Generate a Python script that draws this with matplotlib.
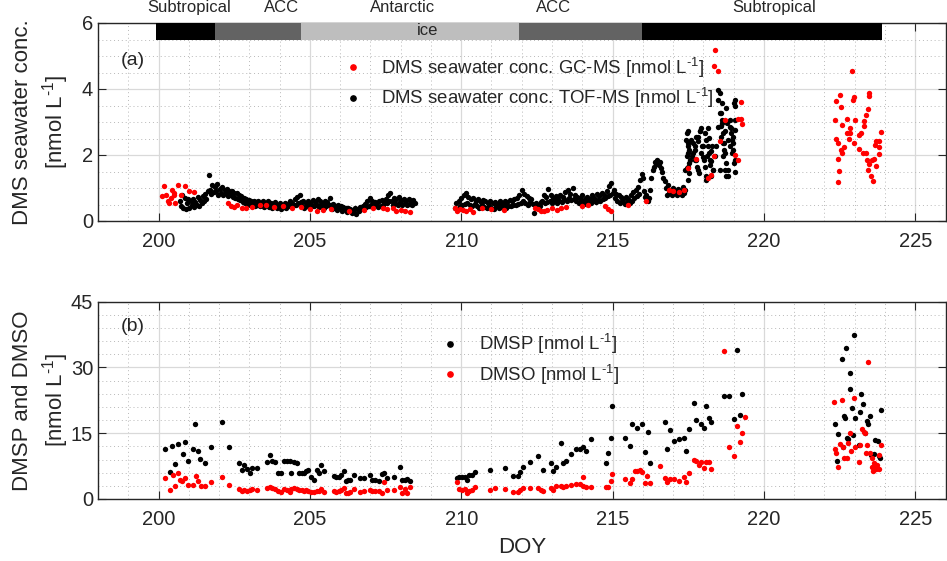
import numpy as np
import matplotlib.pyplot as plt
from matplotlib.lines import Line2D

plt.rcParams['font.family'] = ['Liberation Sans', 'DejaVu Sans']
plt.rcParams['mathtext.fontset'] = 'custom'
plt.rcParams['mathtext.rm'] = 'Liberation Sans'
plt.rcParams['mathtext.it'] = 'Liberation Sans:italic'

TXT = '#262626'

# ---- panel (a): DMS seawater, TOF-MS (continuous record, 0.04 d sampling)
tof_dt = 0.04
tof_a_start = 200.70
tof_a = [
    0.62, 0.45, 0.78, 0.40, 0.70, 0.36, 0.55, 0.66, 0.38, 0.60, 0.48, 0.68, 0.42, 0.58, 0.50, 0.72, 0.46, 0.64, 0.55, 0.75, 0.60, 0.82, 0.68, 0.90, 1.38,
    0.95, 0.82, 1.10, 0.88, 1.02, 0.92, 1.12, 0.80, 0.98, 0.86, 1.04, 0.78, 0.95, 0.84, 0.98, 0.75, 0.92, 0.80, 0.90, 0.72, 0.86, 0.70, 0.84, 0.66, 0.80,
    0.64, 0.75, 0.58, 0.70, 0.55, 0.66, 0.52, 0.64, 0.50, 0.60, 0.48, 0.62, 0.45, 0.58, 0.50, 0.60, 0.44, 0.56, 0.48, 0.62, 0.42, 0.55, 0.47, 0.60, 0.43,
    0.55, 0.40, 0.52, 0.45, 0.58, 0.38, 0.50, 0.44, 0.55, 0.36, 0.48, 0.42, 0.55, 0.40, 0.52, 0.46, 0.60, 0.44, 0.56, 0.50, 0.66, 0.48, 0.72, 0.55, 0.80,
    0.58, 0.45, 0.62, 0.40, 0.55, 0.48, 0.60, 0.42, 0.56, 0.46, 0.64, 0.44, 0.58, 0.50, 0.66, 0.42, 0.60, 0.48, 0.54, 0.40, 0.62, 0.45, 0.58, 0.50, 0.70,
    0.48, 0.36, 0.52, 0.40, 0.46, 0.33, 0.50, 0.38, 0.44, 0.30, 0.42, 0.35, 0.40, 0.28, 0.38, 0.32, 0.36, 0.24, 0.34, 0.28, 0.40, 0.22, 0.36, 0.30, 0.42,
    0.35, 0.45, 0.38, 0.52, 0.42, 0.60, 0.45, 0.70, 0.50, 0.62, 0.44, 0.58, 0.48, 0.55, 0.42, 0.60, 0.46, 0.64, 0.50, 0.58, 0.68, 0.55, 0.78, 0.60, 0.85,
    0.62, 0.50, 0.70, 0.55, 0.66, 0.48, 0.72, 0.58, 0.64, 0.50, 0.68, 0.54, 0.62, 0.47, 0.66, 0.52, 0.60, 0.48, 0.64, 0.55,
]
tof_b_start = 209.80
tof_b = [
    0.40, 0.55, 0.35, 0.62, 0.45, 0.70, 0.48, 0.80, 0.52, 0.85, 0.56, 0.72, 0.50, 0.66, 0.46, 0.70, 0.52, 0.62, 0.44, 0.66, 0.40, 0.58, 0.48, 0.64, 0.42,
    0.60, 0.38, 0.56, 0.45, 0.62, 0.40, 0.55, 0.36, 0.58, 0.44, 0.52, 0.38, 0.60, 0.42, 0.55, 0.48, 0.62, 0.40, 0.58, 0.46, 0.64, 0.44, 0.60, 0.50, 0.66,
    0.48, 0.70, 0.52, 0.78, 0.56, 0.95, 0.60, 0.82, 0.54, 0.76, 0.50, 0.70, 0.58, 0.66, 0.52, 0.24, 0.48, 0.55, 0.42, 0.50, 0.46, 0.58, 0.62, 0.80, 0.55,
    0.72, 0.58, 0.97, 0.62, 0.78, 0.54, 0.70, 0.60, 0.76, 0.55, 0.68, 0.62, 0.80, 0.58, 0.74, 0.66, 0.88, 0.60, 0.95, 0.70, 0.82, 0.64, 1.00, 0.68, 0.78,
    0.62, 0.74, 0.55, 0.70, 0.60, 0.80, 0.58, 0.68, 0.52, 0.72, 0.60, 0.66, 0.55, 0.78, 0.62, 0.70, 0.58, 0.82, 0.64, 0.76, 0.60, 0.85, 0.66, 0.78, 0.70,
    0.90, 0.75, 1.05, 0.80, 1.15, 0.85, 0.95, 0.70, 0.82, 0.62, 0.78, 0.56, 0.72, 0.60, 0.68, 0.52, 0.74, 0.58, 0.66, 0.55, 0.80, 0.62, 0.88, 0.70, 0.95,
    0.75, 1.02, 0.82, 1.25, 1.43, 1.30, 0.90, 0.72, 0.80, 0.60, 0.70, 0.95, 1.30, 1.55, 1.65, 1.80, 1.72, 1.85, 1.70, 1.78, 1.62, 1.50, 1.30, 1.20, 1.00,
    0.80, 1.10, 0.85, 0.95, 0.80, 1.00, 0.85, 0.92, 0.78, 0.98, 0.84, 0.90, 0.80, 1.02, 0.86, 0.95,
]
# scattered TOF-MS values, DOY 217.4-219.1
tof_c_doy = [217.47, 217.49, 217.52, 217.47, 217.53, 217.47, 217.60, 217.66, 217.71, 217.73,
             217.77, 217.82, 217.80, 217.84, 217.88, 217.91, 217.93, 217.99, 218.02, 218.04,
             218.10, 218.13, 218.15, 218.17, 218.21, 218.24, 218.26, 218.32, 218.48, 218.50,
             218.54, 218.57, 218.59, 218.61, 218.65, 218.68, 218.70, 218.72, 218.76, 218.79,
             218.81, 218.87, 218.90, 218.92, 218.94, 218.98, 219.01, 219.03, 219.05, 219.06,
             218.98, 218.87,
             217.50, 217.44, 217.48, 217.50, 217.55, 217.50, 217.52, 217.50, 217.66, 217.72,
             217.77, 217.83, 217.88, 217.94, 217.99, 218.05, 218.10, 218.16, 218.18, 218.21,
             218.27, 218.32, 218.25, 218.54, 218.60, 218.58, 218.62, 218.65, 218.68, 218.73,
             218.76, 218.80, 218.82, 218.87, 218.93, 218.98, 219.04, 219.01, 219.06, 219.04,
             218.49, 218.43, 218.76, 218.65, 218.54, 217.83, 217.61, 218.10, 218.38, 217.39]
tof_c = [2.67, 2.36, 2.16, 1.96, 1.76, 1.60, 2.46, 2.06, 1.86, 2.26,
         2.56, 2.41, 1.65, 1.45, 2.72, 2.82, 2.06, 2.26, 1.86, 2.67,
         1.35, 1.96, 2.26, 2.51, 1.71, 2.11, 1.81, 1.55, 3.98, 3.68,
         3.27, 2.87, 2.56, 3.07, 2.36, 2.16, 2.72, 1.55, 1.35, 2.97,
         2.46, 2.26, 2.67, 2.82, 2.06, 2.36, 1.76, 3.68, 3.47, 1.50,
         2.56, 3.07,
         2.72, 2.46, 2.26, 2.06, 1.86, 1.65, 1.45, 1.25, 2.36, 2.16,
         1.86, 2.56, 2.72, 2.26, 1.95, 1.65, 2.46, 2.81, 2.06, 1.86,
         2.26, 1.55, 1.35, 3.88, 3.58, 3.27, 2.97, 2.67, 2.36, 2.06,
         1.75, 1.55, 1.35, 2.86, 2.46, 2.16, 1.86, 3.58, 3.07, 2.77,
         2.86, 2.26, 3.42, 1.96, 1.55, 1.55, 1.96, 1.25, 1.96, 1.55]

# ---- panel (a): DMS seawater, GC-MS
gc_doy = [200.13, 200.19, 200.26, 200.30, 200.33, 200.40, 200.44, 200.50, 200.52, 200.56,
          200.65, 200.73, 200.86, 201.02, 201.18,
          202.30, 202.40, 202.50, 202.60, 202.75, 202.90, 203.10, 203.35, 203.55, 203.80,
          204.10, 204.40, 204.70, 205.00, 205.25, 205.45, 205.70, 206.30, 206.80, 207.10,
          207.40, 207.55, 207.75, 207.85, 208.00, 208.15, 208.30,
          209.78, 209.85, 209.95, 210.05, 210.15, 210.30, 210.40, 210.70, 211.00, 211.40,
          212.45, 212.55, 212.65, 212.75, 212.85, 213.00, 213.15, 213.30, 213.45, 214.00,
          214.20, 214.75, 214.85, 214.95, 215.50, 216.10, 216.85, 217.00, 217.20, 217.35,
          217.50, 217.77, 218.15, 218.26, 218.34, 218.35, 218.39, 218.50, 218.54, 218.70,
          219.03, 219.14, 219.14, 219.23, 219.25, 219.28,
          222.92, 222.53, 222.38, 222.55, 222.99, 222.94, 223.46, 223.48, 223.43, 223.37,
          222.35, 222.75, 223.02, 222.58, 223.30, 223.32, 222.83, 222.75, 222.86, 223.21,
          223.15, 223.87, 222.38, 222.46, 222.80, 222.97, 222.66, 222.55, 222.59, 223.13,
          223.70, 223.79, 223.68, 223.81, 223.26, 223.37, 223.79, 222.44, 223.41, 223.57,
          223.65, 223.48, 223.70, 222.47, 223.45, 223.54, 223.59, 222.44]
gc_val = [0.75, 1.05, 0.78, 0.62, 0.55, 0.70, 0.95, 0.80, 0.85, 0.55,
          1.10, 0.80, 1.05, 0.90, 0.88,
          0.55, 0.45, 0.42, 0.48, 0.40, 0.38, 0.42, 0.50, 0.48, 0.42,
          0.45, 0.38, 0.42, 0.36, 0.30, 0.32, 0.35, 0.30, 0.33, 0.38,
          0.40, 0.36, 0.38, 0.30, 0.32, 0.30, 0.28,
          0.38, 0.30, 0.35, 0.32, 0.30, 0.36, 0.28, 0.38, 0.35, 0.32,
          0.40, 0.35, 0.30, 0.30, 0.34, 0.38, 0.33, 0.40, 0.42, 0.45,
          0.48, 0.45, 0.35, 0.30, 0.50, 0.60, 0.95, 0.90, 0.88, 0.95,
          1.60, 1.88, 1.30, 1.40, 1.96, 4.69, 5.19, 4.56, 2.41, 3.07,
          1.99, 3.09, 1.84, 3.09, 3.61, 2.95,
          4.56, 3.81, 3.63, 3.45, 3.76, 3.68, 3.88, 3.78, 3.39, 3.22,
          3.05, 3.10, 3.07, 2.90, 3.04, 2.87, 2.83, 2.68, 2.68, 2.68,
          2.61, 2.69, 2.48, 2.36, 2.48, 2.36, 2.23, 2.16, 2.06, 2.19,
          2.41, 2.41, 2.29, 2.23, 2.06, 2.06, 2.04, 1.88, 1.84, 1.86,
          1.88, 1.74, 1.67, 1.53, 1.55, 1.35, 1.20, 1.17]

# ---- panel (b): DMSP and DMSO
dmsp_doy = [200.22, 200.38, 200.46, 200.55, 200.65, 200.80, 200.88, 200.97, 201.13, 201.21,
            201.30, 201.37, 201.54, 201.73, 202.10, 202.34, 202.67, 202.76, 202.84, 202.92,
            203.01, 203.09, 203.25, 203.57, 203.68, 203.76, 203.84, 203.96, 204.04, 204.15,
            204.25, 204.33, 204.38, 204.47, 204.56, 204.64, 204.73, 204.79, 204.86, 204.95,
            205.05, 205.13, 205.22, 205.30, 205.37, 205.46, 205.79, 205.87, 205.96, 206.04,
            206.13, 206.20, 206.26, 206.34, 206.46, 206.64, 206.80, 207.00, 207.05, 207.14,
            207.27, 207.38, 207.46, 207.55, 207.79, 207.97, 208.05, 208.13, 208.22, 208.30,
            209.86, 209.93, 210.02, 210.11, 210.20, 210.27, 210.35, 210.46, 210.95, 211.45,
            211.70, 211.87, 211.94, 212.03, 212.27, 212.53, 212.71, 212.95, 213.04, 213.12,
            213.30, 213.37, 213.45, 213.62, 213.79, 213.92, 214.01, 214.11, 214.28, 214.79,
            214.86, 214.94, 214.99, 215.40, 215.57, 215.65, 215.82, 215.98, 216.06, 216.16,
            216.24, 216.73, 216.81, 216.90, 217.03, 217.20, 217.36, 217.44, 217.52, 217.69,
            217.77, 217.93, 218.02, 218.10, 218.19, 218.26, 218.67, 218.84, 219.11, 219.02,
            219.20, 219.28,
            222.35, 222.42, 222.46, 222.57, 222.60, 222.66, 222.69, 222.71, 222.75, 222.79,
            222.83, 222.86, 222.90, 222.93, 222.97, 223.02, 223.13, 223.19, 223.21, 223.26,
            223.34, 223.41, 223.45, 223.52, 223.54, 223.63, 223.67, 223.76, 223.79, 223.83,
            223.87]
dmsp = [11.3, 6.2, 12.1, 7.9, 12.5, 10.3, 12.9, 8.7, 11.4, 17.0,
        11.0, 9.2, 8.1, 11.9, 17.6, 11.9, 8.1, 6.6, 7.8, 6.9,
        6.0, 7.1, 7.1, 8.4, 10.0, 8.7, 8.4, 6.0, 5.9, 8.7,
        8.7, 8.7, 6.0, 8.4, 8.1, 6.0, 6.0, 5.9, 6.4, 6.6,
        5.1, 4.3, 6.6, 6.0, 7.8, 6.4, 5.2, 5.0, 5.1, 5.5,
        6.5, 4.2, 4.3, 4.3, 5.5, 4.7, 4.9, 5.4, 4.3, 4.3,
        4.0, 5.7, 6.0, 4.7, 5.1, 7.4, 4.3, 4.3, 4.5, 4.0,
        4.9, 5.1, 5.1, 5.1, 4.3, 5.5, 5.5, 6.2, 6.6, 7.1,
        5.3, 5.3, 6.2, 7.4, 8.5, 9.7, 6.7, 8.3, 6.5, 7.2,
        12.7, 8.1, 8.7, 10.3, 11.4, 11.4, 11.9, 11.0, 13.6, 8.1,
        10.5, 13.9, 21.2, 13.9, 12.2, 17.1, 16.3, 17.1, 10.7, 15.2,
        8.1, 17.6, 11.4, 15.7, 13.2, 13.7, 13.8, 11.0, 16.0, 21.9,
        18.0, 17.0, 16.3, 21.2, 18.4, 17.6, 23.6, 23.6, 34.0, 18.2,
        19.1, 24.0,
        17.2, 8.7, 14.8, 31.9, 11.8, 19.0, 18.4, 34.5, 13.8, 13.7,
        25.0, 28.8, 20.8, 14.6, 37.4, 18.4, 12.3, 19.8, 24.0, 21.6,
        15.0, 17.8, 17.1, 18.9, 10.0, 10.3, 13.5, 13.3, 9.9, 9.3,
        20.2]

dmso_doy = [200.22, 200.38, 200.48, 200.55, 200.64, 200.71, 200.77, 200.88, 200.97, 201.13,
            201.23, 201.30, 201.40, 201.54, 201.73, 202.10, 202.34, 202.67, 202.76, 202.84,
            202.92, 203.01, 203.09, 203.25, 203.57, 203.68, 203.76, 203.84, 203.96, 204.04,
            204.15, 204.25, 204.33, 204.38, 204.47, 204.56, 204.64, 204.73, 204.79, 204.86,
            204.95, 205.05, 205.13, 205.22, 205.30, 205.37, 205.46, 205.79, 205.87, 205.96,
            206.04, 206.13, 206.20, 206.26, 206.34, 206.46, 206.64, 206.80, 207.00, 207.05,
            207.14, 207.27, 207.38, 207.46, 207.55, 207.79, 207.97, 208.05, 208.13, 208.22,
            208.30, 209.86, 209.93, 210.02, 210.11, 210.20, 210.27, 210.35, 210.46, 210.95,
            211.12, 211.45, 211.70, 211.87, 211.94, 212.03, 212.27, 212.53, 212.63, 212.71,
            212.95, 213.04, 213.12, 213.30, 213.37, 213.45, 213.62, 213.79, 213.92, 214.01,
            214.03, 214.11, 214.28, 214.79, 214.86, 214.94, 214.99, 215.40, 215.57, 215.65,
            215.73, 215.82, 215.90, 215.98, 216.06, 216.14, 216.24, 216.57, 216.73, 216.81,
            216.90, 217.03, 217.20, 217.36, 217.44, 217.52, 217.69, 217.77, 217.86, 217.93,
            218.02, 218.10, 218.19, 218.26, 218.68, 218.84, 219.02, 219.11, 219.20, 219.28,
            219.36,
            222.30, 222.35, 222.38, 222.44, 222.50, 222.57, 222.60, 222.66, 222.75, 222.79,
            222.86, 222.88, 222.97, 223.02, 223.15, 223.19, 223.24, 223.30, 223.34, 223.37,
            223.43, 223.41, 223.52, 223.57, 223.58, 223.63, 223.67, 223.70, 223.73, 223.79,
            223.81, 223.87, 223.66, 223.61]
dmso = [4.9, 2.1, 5.4, 3.0, 5.9, 4.3, 4.1, 4.9, 3.3, 3.3,
        5.2, 4.0, 3.0, 3.0, 3.9, 5.1, 3.3, 2.2, 1.9, 2.0,
        1.8, 2.0, 2.2, 2.0, 2.4, 2.8, 2.6, 2.2, 1.9, 1.7,
        2.2, 2.0, 1.7, 2.3, 2.6, 2.3, 2.0, 2.0, 1.9, 2.0,
        1.9, 1.7, 1.7, 1.9, 1.8, 2.2, 1.5, 1.8, 1.5, 1.8,
        2.0, 2.4, 1.3, 1.4, 1.7, 2.2, 1.7, 1.9, 2.0, 1.8,
        1.8, 1.8, 1.4, 3.8, 2.0, 2.0, 2.7, 1.4, 2.2, 1.4,
        2.8, 3.8, 2.2, 2.0, 2.2, 1.4, 1.8, 2.0, 2.7, 2.0,
        2.4, 2.2, 1.7, 1.7, 2.0, 2.4, 2.4, 2.6, 2.0, 1.8,
        2.4, 2.0, 3.0, 3.0, 2.7, 3.0, 3.2, 3.4, 3.4, 3.0,
        5.0, 2.8, 2.8, 2.7, 2.7, 4.1, 5.8, 4.6, 3.7, 4.6,
        6.3, 6.3, 6.6, 6.2, 3.7, 5.2, 3.6, 7.6, 4.7, 3.8,
        4.6, 4.5, 4.2, 5.0, 3.8, 6.0, 9.0, 8.7, 7.8, 8.5,
        7.1, 8.4, 8.4, 6.8, 33.8, 11.8, 9.7, 16.7, 12.9, 15.1,
        18.6,
        22.2, 11.3, 10.6, 7.2, 12.5, 22.6, 11.9, 9.4, 9.3, 12.7,
        15.1, 10.9, 23.0, 11.9, 8.4, 12.3, 15.9, 15.3, 15.0, 10.6,
        31.2, 12.3, 10.6, 9.3, 7.2, 8.1, 7.6, 6.8, 7.7, 6.8,
        10.0, 12.3, 7.0, 6.5]

# water mass bar at top of panel (a)
zone_start = [199.92, 201.88, 204.72, 211.90, 215.96]
zone_end = [201.88, 204.72, 211.90, 215.96, 223.90]
zone_color = ['#000000', '#636363', '#bebebe', '#636363', '#000000']
zone_names = ['Subtropical', 'ACC', 'Antarctic', 'ACC', 'Subtropical']
zone_label_x = [201.0, 204.07, 208.06, 213.05, 220.33]

tof_a_doy = tof_a_start + tof_dt * np.arange(len(tof_a))
tof_b_doy = tof_b_start + tof_dt * np.arange(len(tof_b))
tof_doy = np.concatenate([tof_a_doy, tof_b_doy, tof_c_doy])
tof_val = np.concatenate([tof_a, tof_b, tof_c])

unit = r'[nmol L$^{\text{-1}}$]'
ms = 15

fig = plt.figure(figsize=(9.47, 5.61), dpi=100)
ax1 = fig.add_axes([98 / 947, 1 - 221 / 561, 847.5 / 947, 198 / 561])
ax2 = fig.add_axes([98 / 947, 1 - 499 / 561, 847.5 / 947, 197.3 / 561])


def style(ax, ymax, ymajor, yminor):
    ax.set_xlim(198, 226)
    ax.set_ylim(0, ymax)
    ax.set_xticks(np.arange(200, 226, 5))
    ax.set_xticks(np.arange(198, 227, 1), minor=True)
    ax.set_yticks(np.arange(0, ymax + 0.01, ymajor))
    ax.set_yticks(np.arange(0, ymax + 0.01, yminor), minor=True)
    ax.grid(which='major', color='#d9d9d9', linewidth=0.9)
    ax.grid(which='minor', color='#b8b8b8', linestyle=(0, (1, 3)), linewidth=0.7)
    ax.set_axisbelow(True)
    ax.tick_params(which='both', direction='in', top=True, right=True,
                   colors=TXT, labelsize=14.5, width=0.8)
    ax.tick_params(which='major', length=6)
    ax.tick_params(which='minor', length=0)
    ax.tick_params(axis='x', pad=8)
    for s in ax.spines.values():
        s.set_color(TXT)
        s.set_linewidth(1.0)


style(ax1, 6, 2, 0.5)
style(ax2, 45, 15, 3)

# panel (a)
for x0, x1, col in zip(zone_start, zone_end, zone_color):
    ax1.fill_between([x0, x1], 5.5, 6.0, color=col, linewidth=0, zorder=3)
for name, xl in zip(zone_names, zone_label_x):
    ax1.text(xl, 6.47, name, ha='center', va='center', fontsize=12,
             color=TXT, clip_on=False)
ax1.text(208.9, 5.76, 'ice', ha='center', va='center', fontsize=12, color=TXT, zorder=4)

ax1.scatter(tof_doy, tof_val, s=ms, color='black', linewidths=0, zorder=2)
ax1.scatter(gc_doy, gc_val, s=ms, color='red', linewidths=0, zorder=2.5)
ax1.text(199.16, 4.85, '(a)', ha='center', va='center', fontsize=14, color=TXT)
ax1.set_ylabel('DMS seawater conc.\n' + unit, fontsize=16, color=TXT, linespacing=1.3)
ax1.yaxis.set_label_coords(-0.032, 0.5)

h1 = [Line2D([], [], linestyle='none', marker='o', markersize=3.8, color='red'),
      Line2D([], [], linestyle='none', marker='o', markersize=3.8, color='black')]
leg1 = ax1.legend(h1, ['DMS seawater conc. GC-MS ' + unit, 'DMS seawater conc. TOF-MS ' + unit],
                  loc='upper left', bbox_to_anchor=(0.2896, 0.835), frameon=False,
                  fontsize=13.4, handlelength=1.0, handletextpad=1.0, borderpad=0,
                  borderaxespad=0, labelspacing=0.35)
for t in leg1.get_texts():
    t.set_color(TXT)

# panel (b)
ax2.scatter(dmsp_doy, dmsp, s=ms, color='black', linewidths=0, zorder=2)
ax2.scatter(dmso_doy, dmso, s=ms, color='red', linewidths=0, zorder=2.5)
ax2.text(199.16, 39.3, '(b)', ha='center', va='center', fontsize=14, color=TXT)
ax2.set_ylabel('DMSP and DMSO\n' + unit, fontsize=16, color=TXT, linespacing=1.3)
ax2.yaxis.set_label_coords(-0.032, 0.5)
ax2.set_xlabel('DOY', fontsize=16, color=TXT, labelpad=6)

h2 = [Line2D([], [], linestyle='none', marker='o', markersize=3.8, color='black'),
      Line2D([], [], linestyle='none', marker='o', markersize=3.8, color='red')]
leg2 = ax2.legend(h2, ['DMSP ' + unit, 'DMSO ' + unit],
                  loc='upper left', bbox_to_anchor=(0.404, 0.845), frameon=False,
                  fontsize=13.4, handlelength=1.0, handletextpad=1.06, borderpad=0,
                  borderaxespad=0, labelspacing=0.35)
for t in leg2.get_texts():
    t.set_color(TXT)

fig.savefig('out.png', dpi=100)
